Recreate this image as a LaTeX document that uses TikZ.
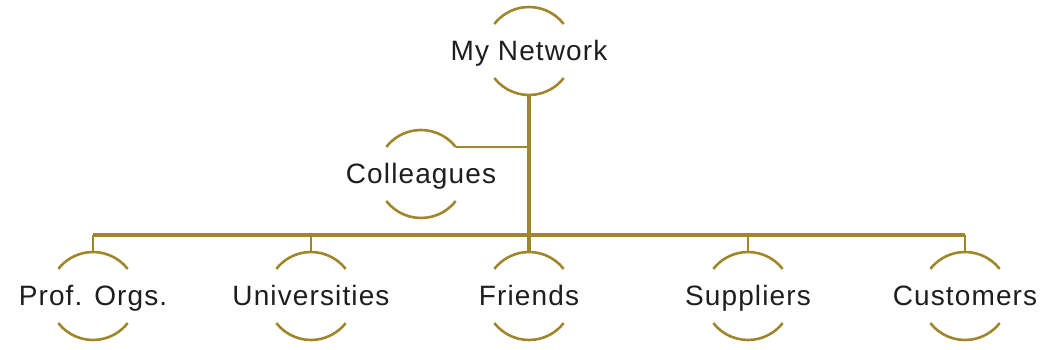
\documentclass[tikz,border=0pt]{standalone}
\usepackage{fontspec}
\setmainfont{Liberation Sans}[LetterSpace=4]
\definecolor{gold}{RGB}{160,134,42}
\definecolor{ink}{RGB}{30,30,30}
\begin{document}
\begin{tikzpicture}[
      x=1pt, y=1pt,
      member/.style={font=\fontsize{28}{30}\selectfont, text=ink, inner sep=0,
        text height=25pt, text depth=6pt},
      ring/.style={draw=gold, line width=2.6pt},
      trunk/.style={draw=gold, line width=4.2pt},
      bus/.style={draw=gold, line width=3.2pt},
      drop/.style={draw=gold, line width=2.4pt}
    ]
    \useasboundingbox (0,0) rectangle (1048,350);
    \def\r{44pt}
    % nodes
    \node[member] (net) at (529,299) {My Network};
    \node[member] (coll) at (421,176) {Colleagues};
    \node[member] (prof) at (93,54) {Prof. Orgs.};
    \node[member] (univ) at (311,54) {Universities};
    \node[member] (friends) at (529,54) {Friends};
    \node[member] (supp) at (748,54) {Suppliers};
    \node[member] (cust) at (965,54) {Customers};
    % half rings round each member
    \foreach \n in {net,coll,prof,univ,friends,supp,cust} {
      \draw[ring] ([shift={(38:\r)}]\n.center) arc[start angle=38, end angle=142, radius=\r];
      \draw[ring] ([shift={(218:\r)}]\n.center) arc[start angle=218, end angle=322, radius=\r];
    }
    % connectors
    \coordinate (bus) at (0,115);
    \coordinate (collend) at ([shift={(38:\r)}]coll.center);
    \draw[trunk] ([yshift=-\r]net.center) -- ([yshift=\r]friends.center);
    \draw[drop] (collend) -- (collend -| net.center);
    \draw[bus] (prof.center |- bus) -- (cust.center |- bus);
    \foreach \n in {prof,univ,supp,cust} {
      \draw[drop] (\n.center |- bus) -- ([yshift=\r]\n.center);
    }
\end{tikzpicture}
\end{document}
